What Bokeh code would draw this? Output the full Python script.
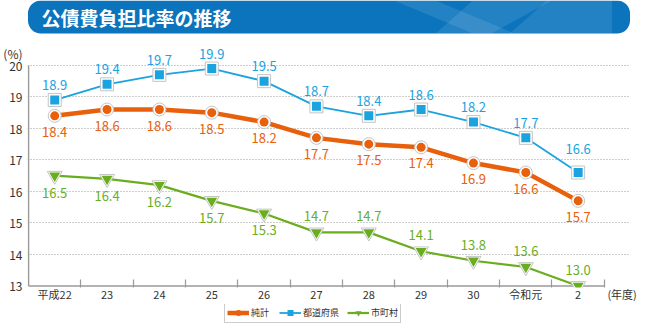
from bokeh.plotting import figure
from bokeh.models import (Range1d, FixedTicker, ColumnDataSource, LabelSet,
                          Legend, LegendItem)
from bokeh.layouts import column
from bokeh.embed import file_html
from bokeh.resources import INLINE
from bokeh.core.properties import value

# ---------------- data ----------------
title_text = "公債費負担比率の推移"
years = ["平成22", "23", "24", "25", "26", "27", "28", "29", "30", "令和元", "2"]
net_total = [18.4, 18.6, 18.6, 18.5, 18.2, 17.7, 17.5, 17.4, 16.9, 16.6, 15.7]
prefectures = [18.9, 19.4, 19.7, 19.9, 19.5, 18.7, 18.4, 18.6, 18.2, 17.7, 16.6]
municipalities = [16.5, 16.4, 16.2, 15.7, 15.3, 14.7, 14.7, 14.1, 13.8, 13.6, 13.0]
series_names = ["純計", "都道府県", "市町村"]
y_ticks = [13, 14, 15, 16, 17, 18, 19, 20]
y_unit = "(%)"
x_unit = "(年度)"

FONT = "Noto Sans CJK JP"
ORANGE = "#e8600c"
BLUE = "#1ba3e0"
GREEN = "#6aae1f"
AXIS = "#9a9a9a"

def bare(fig):
    fig.axis.visible = False
    fig.grid.visible = False
    fig.outline_line_color = None
    fig.background_fill_color = "white"

# ---------------- banner ----------------
b = figure(width=650, height=34, x_range=Range1d(0, 650), y_range=Range1d(34, 0),
           toolbar_location=None, output_backend="svg", min_border=0)
bare(b)
b.quad(left=[0.5], right=[649.5], top=[0], bottom=[33], fill_color="#0b74bd",
       line_color=None, border_radius=13)
b.patches(xs=[[395, 440, 525, 480], [480, 565, 500, 440], [560, 630, 630, 520]],
          ys=[[0, 0, 33, 33], [0, 0, 33, 33], [0, 0, 33, 33]],
          fill_color="white", fill_alpha=0.10, line_color=None)
b.text(x=[15], y=[17], text=[title_text], text_color="white",
       text_font=value(FONT), text_font_style="bold", text_font_size="19px",
       text_baseline="middle", text_align="left")

# ---------------- main chart ----------------
n = len(years)
xs = list(range(n))
x_lo, x_hi = -0.5, n - 0.5
y_lo, y_hi = y_ticks[0], y_ticks[-1]
y_unit_pos = y_hi + 0.38
x_unit_pos = x_hi + 0.34

p = figure(width=650, height=270, x_range=Range1d(x_lo - 0.02, x_hi + 0.5),
           y_range=Range1d(y_lo - 0.05, y_hi + 0.6), toolbar_location=None,
           output_backend="svg", min_border_left=25, min_border_right=20,
           min_border_top=12, min_border_bottom=17)
p.outline_line_color = None
p.background_fill_color = "white"

p.yaxis.ticker = FixedTicker(ticks=y_ticks + [y_unit_pos])
p.yaxis.major_label_overrides = {y_unit_pos: y_unit}
p.yaxis.axis_line_color = None
p.yaxis.major_tick_line_color = None
p.yaxis.minor_tick_line_color = None
p.yaxis.major_tick_out = 0
p.yaxis.major_tick_in = 0
p.yaxis.major_label_standoff = 5
p.yaxis.major_label_text_font = FONT
p.yaxis.major_label_text_font_size = "12px"
p.yaxis.major_label_text_color = "#333333"

p.xaxis.ticker = FixedTicker(ticks=xs + [x_unit_pos], minor_ticks=[i + 0.5 for i in xs])
ovr = {i: years[i] for i in xs}
ovr[x_unit_pos] = x_unit
p.xaxis.major_label_overrides = ovr
p.xaxis.axis_line_color = None
p.xaxis.major_tick_line_color = None
p.xaxis.major_tick_out = 0
p.xaxis.major_tick_in = 0
p.xaxis.minor_tick_line_color = AXIS
p.xaxis.minor_tick_line_width = 1.2
p.xaxis.minor_tick_in = 8
p.xaxis.minor_tick_out = 0
p.xaxis.major_label_standoff = -2
p.xaxis.major_label_text_font = FONT
p.xaxis.major_label_text_font_size = "11px"
p.xaxis.major_label_text_color = "#333333"

p.xgrid.visible = False
p.ygrid.ticker = FixedTicker(ticks=y_ticks[1:])
p.ygrid.grid_line_color = AXIS
p.ygrid.grid_line_dash = "1 2"
p.ygrid.grid_line_width = 1

p.segment(x0=[x_lo, x_lo], y0=[y_lo, y_lo], x1=[x_lo, x_hi], y1=[y_hi, y_lo],
          line_color=AXIS, line_width=1.5)

specs = [
    (net_total, ORANGE, 4.5, "circle", 9),
    (prefectures, BLUE, 1.8, "square", 9),
    (municipalities, GREEN, 2.2, "inverted_triangle", 11),
]

# legend lives in its own strip below the chart
lg = figure(width=650, height=20, x_range=Range1d(0, 1), y_range=Range1d(1000, 1001),
            toolbar_location=None, output_backend="svg", min_border=0)
bare(lg)
legend_items = []

def draw_series(fig, vals, color, lw, marker, size):
    src = ColumnDataSource(dict(x=xs, y=vals))
    ln = fig.line("x", "y", source=src, line_color=color, line_width=lw)
    outer = fig.scatter("x", "y", source=src, marker=marker, size=size + 4,
                        fill_color="white", line_color="#c4c4c4", line_width=1)
    inner = fig.scatter("x", "y", source=src, marker=marker, size=size,
                        fill_color=color, line_color=None)
    return [ln, outer, inner]

for name, (vals, color, lw, marker, size) in zip(series_names, specs):
    draw_series(p, vals, color, lw, marker, size)
    r = draw_series(lg, vals, color, lw, marker, size)
    legend_items.append(LegendItem(label=name, renderers=[r[0], r[2]]))

def add_labels(vals, color, offsets):
    src = ColumnDataSource(dict(x=xs, y=vals, t=[f"{v:.1f}" for v in vals], off=offsets))
    p.add_layout(LabelSet(x="x", y="y", text="t", source=src, y_offset="off",
                          text_align="center", text_baseline="middle",
                          text_font=value(FONT), text_font_size="13px",
                          text_color=color))

add_labels(net_total, ORANGE, [-16] * n)
add_labels(prefectures, BLUE, [15] * (n - 1) + [24])
add_labels(municipalities, GREEN, [-17 if i < 5 else 16 for i in xs])

legend = Legend(items=legend_items, orientation="horizontal", location=(197, 1),
                label_text_font=FONT, label_text_font_size="9px",
                label_text_color="#333333", glyph_width=22, glyph_height=15,
                label_standoff=2, spacing=8, padding=2, margin=0,
                border_line_color=AXIS, border_line_width=1,
                background_fill_color="white", background_fill_alpha=1)
lg.add_layout(legend)

layout = column(b, p, lg, spacing=0)
open("out.html", "w").write(file_html(layout, INLINE))
